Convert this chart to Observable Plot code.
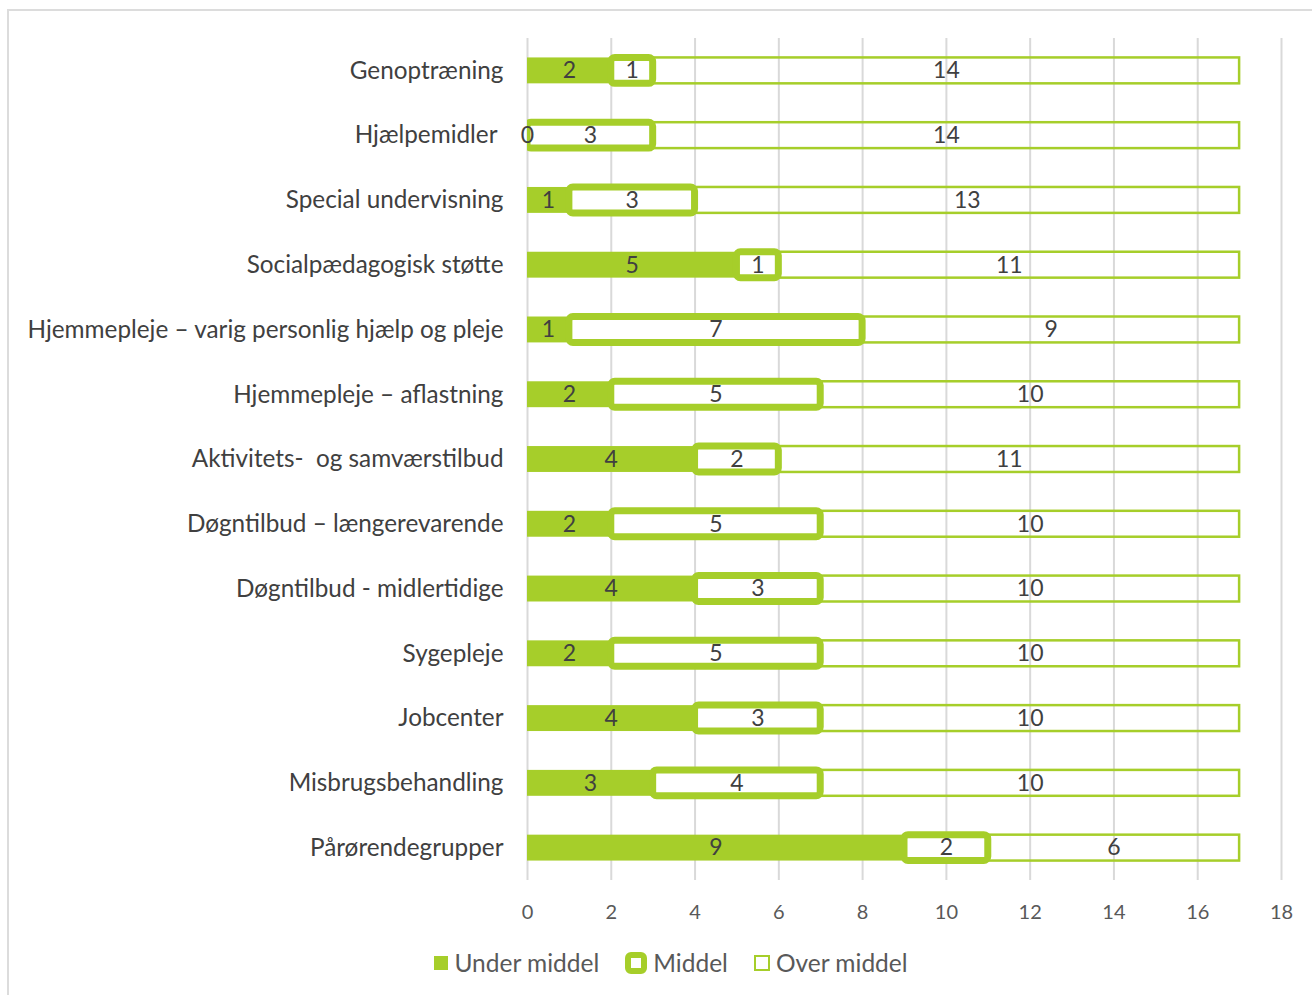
<!DOCTYPE html>
<html>
<head>
<meta charset="utf-8">
<script src="https://cdn.jsdelivr.net/npm/d3@7"></script>
<script src="https://cdn.jsdelivr.net/npm/@observablehq/plot@0.6"></script>
<style>
  html, body { margin: 0; padding: 0; background: #fff; }
  body { width: 1312px; height: 995px; position: relative; overflow: hidden; font-family: Lato, "Open Sans", sans-serif; }
  #frame { position: absolute; left: 7px; top: 9px; width: 1400px; height: 1100px; border-left: 2px solid #dcdcdc; border-top: 2px solid #dcdcdc; box-sizing: border-box; }
  #chart { position: absolute; left: 0; top: 0; }
  #legend { position: absolute; top: 948px; left: 0; width: 1312px; display: flex; justify-content: center; font-size: 24.5px; color: #595959; padding-left: 30px; box-sizing: border-box; }
  .item { display: flex; align-items: center; margin: 0 13px; }
  .item svg { margin-right: 6px; }
</style>
</head>
<body>
<div id="frame"></div>
<div id="chart"></div>
<div id="legend"></div>
<script>
const categories = [
  "Genoptræning",
  "Hjælpemidler",
  "Special undervisning",
  "Socialpædagogisk støtte",
  "Hjemmepleje – varig personlig hjælp og pleje",
  "Hjemmepleje – aflastning",
  "Aktivitets-  og samværstilbud",
  "Døgntilbud – længerevarende",
  "Døgntilbud - midlertidige",
  "Sygepleje",
  "Jobcenter",
  "Misbrugsbehandling",
  "Pårørendegrupper"
];
const underMiddel = [2, 0, 1, 5, 1, 2, 4, 2, 4, 2, 4, 3, 9];
const middel      = [1, 3, 3, 1, 7, 5, 2, 5, 3, 5, 3, 4, 2];
const overMiddel  = [14, 14, 13, 11, 9, 10, 11, 10, 10, 10, 10, 10, 6];
const xTicks = [0, 2, 4, 6, 8, 10, 12, 14, 16, 18];
const seriesNames = ["Under middel", "Middel", "Over middel"];

const green = "#a6ce2a";
const data = categories.map((c, i) => ({
  cat: c,
  u: underMiddel[i],
  m: middel[i],
  o: overMiddel[i],
  s1: underMiddel[i],
  s2: underMiddel[i] + middel[i],
  s3: underMiddel[i] + middel[i] + overMiddel[i]
}));

const font = "Lato, 'Open Sans', sans-serif";
const chart = Plot.plot({
  width: 1312,
  height: 935,
  marginLeft: 527,
  marginRight: 31,
  marginTop: 38,
  marginBottom: 55,
  style: { fontFamily: font, fontSize: "20px", color: "#595959", background: "transparent" },
  x: { domain: [0, 18], ticks: xTicks, tickSize: 0, tickPadding: 24, label: null },
  y: { domain: categories, paddingInner: 0.6, paddingOuter: 0.3, round: false, axis: null },
  marks: [
    Plot.ruleX(xTicks, { stroke: "#d9d9d9", strokeWidth: 2 }),
    Plot.barX(data, { y: "cat", x1: 0, x2: "s1", fill: green, inset: 0 }),
    Plot.barX(data, { y: "cat", x1: "s2", x2: "s3", fill: "none", stroke: green, strokeWidth: 2.5, inset: 0 }),
    Plot.barX(data, { y: "cat", x1: "s1", x2: "s2", fill: "white", stroke: green, strokeWidth: 7, rx: 4, inset: 0, clip: true }),
    Plot.text(data, { y: "cat", x: d => d.s1 / 2, text: d => String(d.u), fontSize: 23, fill: "#404040" }),
    Plot.text(data, { y: "cat", x: d => (d.s1 + d.s2) / 2, text: d => String(d.m), fontSize: 23, fill: "#404040" }),
    Plot.text(data, { y: "cat", x: d => (d.s2 + d.s3) / 2, text: d => String(d.o), fontSize: 23, fill: "#404040" }),
    Plot.text(categories, { filter: d => d !== "Hjælpemidler", y: d => d, x: 0, dx: -24, text: d => d, textAnchor: "end", fontSize: 24.3, fill: "#404040" }),
    Plot.text(categories, { filter: d => d === "Hjælpemidler", y: d => d, x: 0, dx: -30, text: d => d, textAnchor: "end", fontSize: 24.3, fill: "#404040" })
  ]
});
document.getElementById("chart").appendChild(chart);

const legend = document.getElementById("legend");
const sw = [
  '<svg width="14" height="14"><rect x="0" y="0" width="14" height="14" fill="' + green + '"/></svg>',
  '<svg width="22" height="22"><rect x="3" y="3" width="16" height="16" rx="3" fill="white" stroke="' + green + '" stroke-width="6"/></svg>',
  '<svg width="16" height="16"><rect x="1" y="1" width="14" height="14" fill="white" stroke="' + green + '" stroke-width="2"/></svg>'
];
seriesNames.forEach((n, i) => {
  const d = document.createElement("div");
  d.className = "item";
  d.innerHTML = sw[i] + "<span>" + n + "</span>";
  legend.appendChild(d);
});
</script>
</body>
</html>
